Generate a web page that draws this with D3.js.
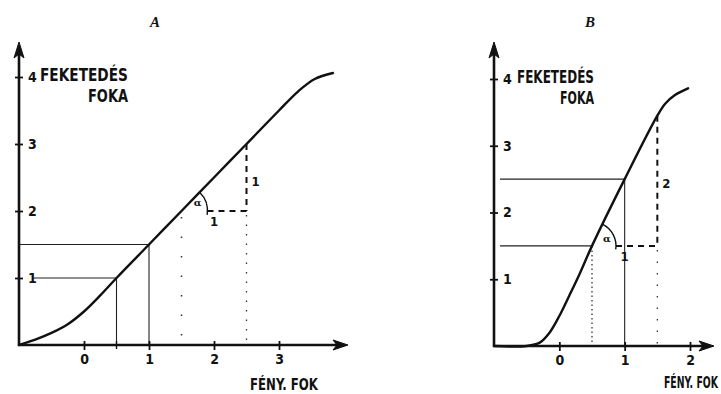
<!DOCTYPE html>
<html><head><meta charset="utf-8">
<script src="https://cdn.jsdelivr.net/npm/d3@7"></script>
<style>
body{margin:0;background:#fff;}
svg{display:block;}
text{fill:#111;}
</style></head>
<body><svg id="c" width="721" height="394"></svg>
<script>
// ---- data ----
const panelTitles = ["A", "B"];
const yLabel1 = "FEKETEDÉS";
const yLabel2 = "FOKA";
const xLabel = "FÉNY. FOK";
const yTicks = [1, 2, 3, 4];
const xTicksA = [0, 1, 2, 3];
const xTicksB = [0, 1, 2];
// characteristic curve A (slope 1)
const curveAx = [-1, -0.75, -0.5, -0.25, 0, 0.25, 0.5, 1, 1.5, 2, 2.5, 3, 3.3, 3.55, 3.83];
const curveAy = [0, 0.08, 0.18, 0.31, 0.5, 0.74, 1.0, 1.5, 2.0, 2.5, 3.0, 3.5, 3.79, 3.97, 4.06];
// characteristic curve B (slope 2)
const curveBx = [-1, -0.5, -0.3, -0.15, 0, 0.15, 0.31, 0.5, 1, 1.5, 1.62, 1.77, 1.97];
const curveBy = [0, 0, 0.05, 0.2, 0.45, 0.75, 1.08, 1.5, 2.5, 3.45, 3.63, 3.76, 3.86];
// construction values: exposure points read on the curve
const guideAx = [0.5, 1];
const guideAy = [1, 1.5];
const triAx = [1.5, 2.5];
const triAy = [2, 3];
const guideBx = [0.5, 1];
const guideBy = [1.5, 2.5];
const triBx = [0.5, 1.5];
const triBy = [1.5, 3.45];
const triLabelsA = ["1", "1"];
const triLabelsB = ["1", "2"];

const svg = d3.select("#c");
const ink = "#111";
const fontCond = "'Liberation Sans Narrow','DejaVu Sans Condensed','Liberation Sans',sans-serif";

// text squeezed horizontally to a target width
function fitText(g, str, x, y, w, size) {
  const t = g.append("text").attr("x", 0).attr("y", 0)
    .attr("font-family", fontCond).attr("font-size", size).attr("font-weight", "bold").text(str);
  const nat = t.node().getComputedTextLength();
  t.attr("transform", `translate(${x},${y}) scale(${w / nat},1)`);
  return t;
}

function panel(cfg) {
  const g = svg.append("g");
  const x = d3.scaleLinear().domain(cfg.xDom).range(cfg.xRange);
  const y = d3.scaleLinear().domain([0, 4]).range(cfg.yRange);
  const x0 = x(cfg.xDom[0]), y0 = y(0);

  g.append("text").attr("x", cfg.titleX).attr("y", 27)
    .attr("font-family", "'Liberation Serif','DejaVu Serif',serif")
    .attr("font-style", "italic").attr("font-weight", "bold")
    .attr("font-size", 15).attr("text-anchor", "middle").text(cfg.title);

  cfg.gx.forEach((gx, i) => {
    const gy = cfg.gy[i];
    const solidV = cfg.vStyle[i] === "solid";
    g.append("line").attr("x1", x0 + cfg.hStart[i]).attr("x2", x(gx))
      .attr("y1", y(gy)).attr("y2", y(gy))
      .attr("stroke", "#222").attr("stroke-width", 1.1);
    g.append("line").attr("x1", x(gx)).attr("x2", x(gx))
      .attr("y1", y(gy)).attr("y2", y0)
      .attr("stroke", "#222").attr("stroke-width", solidV ? 1.1 : 1.2)
      .attr("stroke-dasharray", solidV ? null : "1.5,3");
  });

  const [ta, tb] = cfg.tx, [ua, ub] = cfg.ty;
  g.append("line").attr("x1", x(ta) + cfg.arcR).attr("x2", x(tb))
    .attr("y1", y(ua)).attr("y2", y(ua))
    .attr("stroke", ink).attr("stroke-width", 2).attr("stroke-dasharray", "6,5");
  g.append("line").attr("x1", x(tb)).attr("x2", x(tb))
    .attr("y1", y(ub)).attr("y2", y(ua))
    .attr("stroke", ink).attr("stroke-width", 2).attr("stroke-dasharray", "6,5");
  g.append("line").attr("x1", x(tb)).attr("x2", x(tb))
    .attr("y1", y(ua) + 4).attr("y2", y0)
    .attr("stroke", "#333").attr("stroke-width", 1.3).attr("stroke-dasharray", cfg.dotB);
  if (cfg.dropA) {
    g.append("line").attr("x1", x(ta)).attr("x2", x(ta))
      .attr("y1", y(ua) + 6).attr("y2", y0)
      .attr("stroke", "#333").attr("stroke-width", 1.5).attr("stroke-dasharray", cfg.dotA);
  }
  const px = x(ta), py = y(ua);
  const ang = Math.atan2(y(ub) - py, x(tb) - px);
  const p = d3.path();
  p.moveTo(px + cfg.arcR * Math.cos(ang), py + cfg.arcR * Math.sin(ang));
  p.arc(px, py, cfg.arcR, ang, 0.15);
  g.append("path").attr("d", p.toString()).attr("fill", "none")
    .attr("stroke", ink).attr("stroke-width", 1.4);
  g.append("text").attr("x", px + cfg.arcR * 0.62).attr("y", py - cfg.arcR * 0.18)
    .attr("font-family", "'DejaVu Serif',serif").attr("font-size", 10)
    .attr("font-weight", "bold").attr("text-anchor", "middle").text("α");
  g.append("text").attr("x", (x(ta) + x(tb)) / 2).attr("y", y(ua) + 15)
    .attr("font-family", fontCond).attr("font-size", 13).attr("font-weight", "bold")
    .attr("text-anchor", "middle").text(cfg.triLabels[0]);
  g.append("text").attr("x", x(tb) + 9).attr("y", (y(ua) + y(ub)) / 2 + 4 + cfg.sideDy)
    .attr("font-family", fontCond).attr("font-size", 13).attr("font-weight", "bold")
    .attr("text-anchor", "middle").text(cfg.triLabels[1]);

  const pts = cfg.cx.map((v, i) => [v, cfg.cy[i]]);
  g.append("path").datum(pts)
    .attr("d", d3.line().x(d => x(d[0])).y(d => y(d[1])).curve(d3.curveCatmullRom.alpha(0.5)))
    .attr("fill", "none").attr("stroke", ink).attr("stroke-width", 2.4)
    .attr("stroke-linecap", "round");

  g.append("line").attr("x1", x0).attr("x2", x0).attr("y1", y0 + 1).attr("y2", 52)
    .attr("stroke", ink).attr("stroke-width", 2.6);
  g.append("line").attr("x1", x0 - 1).attr("x2", cfg.xEnd - 6).attr("y1", y0).attr("y2", y0)
    .attr("stroke", ink).attr("stroke-width", 2.6);
  g.append("path").attr("d", `M${x0},42 L${x0 - 5},58 L${x0},54 L${x0 + 5},58 Z`).attr("fill", ink)
    .attr("stroke", ink).attr("stroke-width", 1);
  g.append("path").attr("d", `M${cfg.xEnd},${y0} L${cfg.xEnd - 15},${y0 - 5} L${cfg.xEnd - 11},${y0} L${cfg.xEnd - 15},${y0 + 5} Z`)
    .attr("fill", ink).attr("stroke", ink).attr("stroke-width", 1);

  const ya = g.append("g").attr("transform", `translate(${x0},0)`)
    .call(d3.axisRight(y).tickValues(yTicks).tickSize(4).tickFormat(d3.format("d")));
  ya.select(".domain").remove();
  ya.selectAll(".tick line").attr("x1", -4).attr("x2", 4).attr("stroke", ink).attr("stroke-width", 1.8);
  ya.selectAll(".tick text").attr("x", 9).attr("fill", ink)
    .attr("font-family", fontCond).attr("font-size", 14).attr("font-weight", "bold");

  const xa = g.append("g").attr("transform", `translate(0,${y0})`)
    .call(d3.axisBottom(x).tickValues(cfg.xTicks).tickSize(4).tickFormat(d3.format("d")));
  xa.select(".domain").remove();
  xa.selectAll(".tick line").attr("y1", -4).attr("y2", 5).attr("stroke", ink).attr("stroke-width", 1.8);
  xa.selectAll(".tick text").attr("y", 9).attr("fill", ink)
    .attr("font-family", fontCond).attr("font-size", 14).attr("font-weight", "bold");
  cfg.extraX.forEach(v => {
    g.append("line").attr("x1", x(v)).attr("x2", x(v)).attr("y1", y0 - 4).attr("y2", y0 + 4)
      .attr("stroke", ink).attr("stroke-width", 1.4);
  });

  fitText(g, yLabel1, cfg.yl1[0], cfg.yl1[1], cfg.yl1[2], 17);
  fitText(g, yLabel2, cfg.yl2[0], cfg.yl2[1], cfg.yl2[2], 17);
  fitText(g, xLabel, cfg.xl[0], cfg.xl[1], cfg.xl[2], 16);
}

panel({
  title: panelTitles[0], titleX: 155,
  xDom: [-1, 3], xRange: [19, 279], yRange: [345, 77], xEnd: 348,
  xTicks: xTicksA, extraX: [0.5],
  cx: curveAx, cy: curveAy,
  gx: guideAx, gy: guideAy, hStart: [14, 0], vStyle: ["solid", "solid"],
  tx: triAx, ty: triAy, triLabels: triLabelsA, sideDy: 4,
  arcR: 26, dotA: "1.5,18", dotB: "1.5,8", dropA: true,
  yl1: [40, 81, 88], yl2: [88, 102, 40], xl: [250, 390, 68]
});
panel({
  title: panelTitles[1], titleX: 590,
  xDom: [-1, 2], xRange: [494, 690], yRange: [346, 79], xEnd: 714,
  xTicks: xTicksB, extraX: [],
  cx: curveBx, cy: curveBy,
  gx: guideBx, gy: guideBy, hStart: [6, 6], vStyle: ["dotted", "solid"],
  tx: triBx, ty: triBy, triLabels: triLabelsB, sideDy: 3,
  arcR: 24, dotA: "1.5,3", dotB: "1.5,10", dropA: false,
  yl1: [517, 83, 77], yl2: [560, 104, 34], xl: [664, 388, 54]
});
</script></body></html>
